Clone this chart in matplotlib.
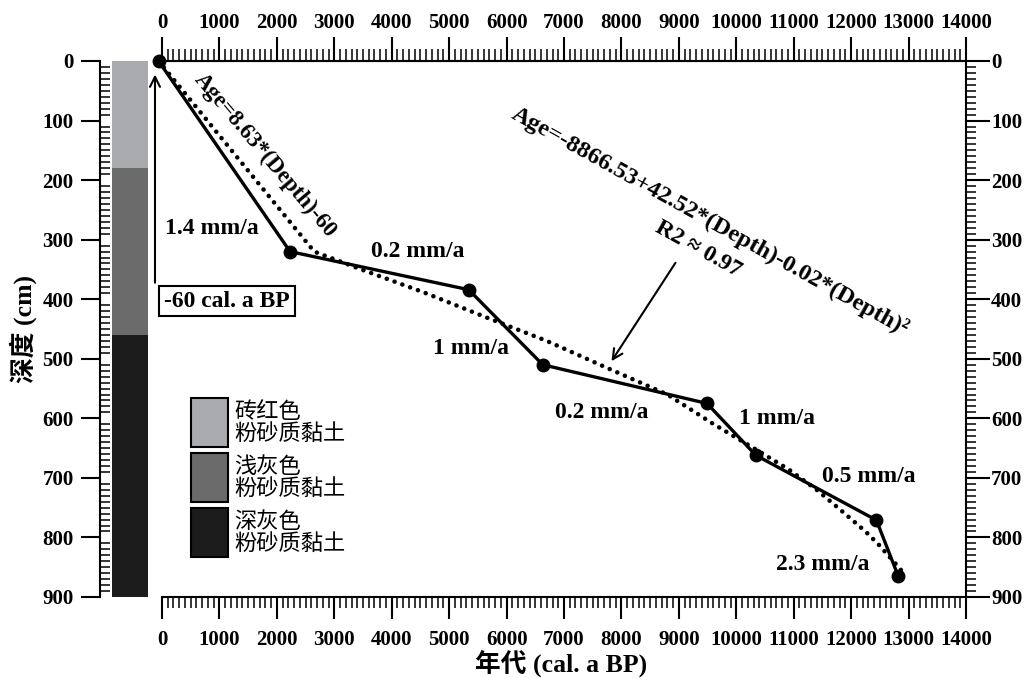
import matplotlib
matplotlib.use("Agg")
import matplotlib.pyplot as plt
from matplotlib.ticker import MultipleLocator, FixedLocator
from matplotlib.patches import Rectangle

plt.rcParams['font.family'] = ['Liberation Serif', 'Noto Sans CJK SC']
plt.rcParams['font.weight'] = 'bold'

# dated samples: age (cal. a BP) vs depth (cm)
ages = [-60, 2230, 5340, 6630, 9490, 10340, 12440, 12820]
depths = [0, 320, 384, 510, 575, 662, 771, 865]

# dotted age-depth model
fit_depths = [0, 320, 350, 388, 431, 470, 516, 560, 609, 650, 685, 720, 755, 790, 811, 848, 862]
fit_ages = [-60, 2650, 3470, 4545, 5660, 6700, 7766, 8800, 9594, 10300, 10900, 11400, 11830, 12250, 12470, 12810, 12930]

# sedimentation rates between samples
rate_labels = ['1.4 mm/a', '0.2 mm/a', '1 mm/a', '0.2 mm/a', '1 mm/a', '0.5 mm/a', '2.3 mm/a']
rate_x = [871, 4458, 5380, 7662, 10709, 12311, 11510]
rate_y = [281, 320, 483, 590, 601, 697, 845]

# axis ticks
age_ticks = list(range(0, 14001, 1000))
depth_ticks = list(range(0, 901, 100))

# lithology column
layer_tops = [0, 180, 460]
layer_bottoms = [180, 460, 900]
layer_colors = ['#a9abaf', '#6b6b6b', '#1c1c1c']
layer_names = ['砖红色\n粉砂质黏土', '浅灰色\n粉砂质黏土', '深灰色\n粉砂质黏土']

W, H = 1025, 678
fig = plt.figure(figsize=(W / 100, H / 100), dpi=100)


def fx(px):
    return px / W


def fy(py):
    return 1 - py / H


ax_top, ax_bot = 61, 597
ax = fig.add_axes([fx(162), fy(ax_bot), fx(966) - fx(162), fy(ax_top) - fy(ax_bot)])
ax.set_xlim(0, 14000)
ax.set_ylim(900, 0)

ax.plot(fit_ages, fit_depths, color='black', lw=3.3, linestyle=(0, (0.01, 1.8)),
        dash_capstyle='round', clip_on=False, zorder=3)
ax.plot(ages, depths, color='black', lw=2.4, marker='o', markersize=9, clip_on=False, zorder=4)

for s, x, y in zip(rate_labels, rate_x, rate_y):
    ax.text(x, y, s, ha='center', va='center', fontsize=17)

ax.text(1793, 158, 'Age=8.63*(Depth)-60', rotation=-49.7, rotation_mode='anchor',
        ha='center', va='center', fontsize=16.5)
ax.text(9542, 269, 'Age=-8866.53+42.52*(Depth)-0.02*(Depth)²', rotation=-29,
        rotation_mode='anchor', ha='center', va='center', fontsize=17.5)
ax.text(9333, 316, 'R2 ≈ 0.97', rotation=-29, rotation_mode='anchor',
        ha='center', va='center', fontsize=17)
ax.annotate('', xy=(7801, 508), xytext=(8967, 335),
            arrowprops=dict(arrowstyle='->', lw=1.5, color='black', mutation_scale=18))

ax.text(1132, 403, '-60 cal. a BP', ha='center', va='center', fontsize=17,
        bbox=dict(boxstyle='square,pad=0.2', fc='white', ec='black', lw=1.5))
ax.annotate('', xy=(-122, 18), xytext=(-122, 377), annotation_clip=False,
            arrowprops=dict(arrowstyle='->', lw=1.5, color='black', mutation_scale=18))

ax.spines['left'].set_visible(False)
for side in ['top', 'bottom', 'right']:
    ax.spines[side].set_linewidth(1.5)
ax.xaxis.set_major_locator(FixedLocator(age_ticks))
ax.xaxis.set_minor_locator(MultipleLocator(100))
ax.yaxis.set_major_locator(FixedLocator(depth_ticks))
ax.yaxis.set_minor_locator(MultipleLocator(10))

# top age axis (twin with its own label padding)
tax = ax.twiny()
tax.set_xlim(0, 14000)
for side in ['left', 'bottom', 'right']:
    tax.spines[side].set_visible(False)
tax.spines['top'].set_linewidth(1.5)
tax.xaxis.set_major_locator(FixedLocator(age_ticks))
tax.xaxis.set_minor_locator(MultipleLocator(100))
tax.tick_params(axis='x', which='both', direction='out', labelsize=15)
tax.tick_params(axis='x', which='major', length=17, width=1.5, pad=3)
tax.tick_params(axis='x', which='minor', length=9, width=1.1)
tax.tick_params(axis='y', which='both', left=False, right=False,
                labelleft=False, labelright=False)

ax.tick_params(axis='x', which='both', top=False, labeltop=False, bottom=True,
               labelbottom=True, direction='out', labelsize=15)
ax.tick_params(axis='x', which='major', length=16, width=1.5, pad=8)
ax.tick_params(axis='x', which='minor', length=8, width=1.1)
ax.tick_params(axis='y', which='both', left=False, labelleft=False, right=True,
               labelright=True, direction='out', labelsize=15)
ax.tick_params(axis='y', which='major', length=17, width=1.5, pad=1)
ax.tick_params(axis='y', which='minor', length=7, width=1.1)

# depth axis with lithology column
sax = fig.add_axes([fx(100), fy(ax_bot), fx(148) - fx(100), fy(ax_top) - fy(ax_bot)])
sax.set_xlim(0, 1)
sax.set_ylim(900, 0)
for top, bot, c in zip(layer_tops, layer_bottoms, layer_colors):
    sax.bar(0.25, bot - top, bottom=top, width=0.75, align='edge', color=c, edgecolor='none')
for side in ['top', 'bottom', 'right']:
    sax.spines[side].set_visible(False)
sax.spines['left'].set_linewidth(1.5)
sax.set_xticks([])
sax.yaxis.set_major_locator(FixedLocator(depth_ticks))
sax.yaxis.set_minor_locator(MultipleLocator(10))
sax.tick_params(axis='y', which='major', direction='out', length=14, width=1.5,
                labelsize=15, pad=5)
sax.tick_params(axis='y', which='minor', direction='in', length=7, width=1.1)

fig.text(fx(23), fy(329), '深度 (cm)', rotation=90, ha='center', va='center', fontsize=18.5)
fig.text(fx(561), fy(664), '年代 (cal. a BP)', ha='center', va='center', fontsize=18.5)

# legend
box_tops = [398, 453, 508]
box_h = 49
for top, c, name in zip(box_tops, layer_colors, layer_names):
    fig.add_artist(Rectangle((fx(191), fy(top + box_h)), fx(228) - fx(191), box_h / H,
                             transform=fig.transFigure, fc=c, ec='black', lw=1.5))
    fig.text(fx(234), fy(top + box_h / 2), name, ha='left', va='center', fontsize=16,
             family='Noto Sans CJK SC', weight='normal', linespacing=0.9)

fig.savefig('out.png', dpi=100)
